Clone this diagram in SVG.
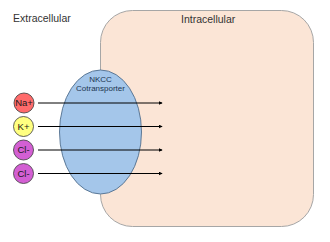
<svg xmlns="http://www.w3.org/2000/svg" width="330" height="242" viewBox="0 0 330 242">
  <style>
    text { font-family: "Liberation Sans", Arial, sans-serif; }
    .label { font-size: 10.5px; fill: #333333; }
    .ion { stroke: #3a3a3a; stroke-width: 0.8; }
    .iontext { font-size: 9.5px; fill: #1a1a1a; text-anchor: middle; }
    .conn { stroke: #000; stroke-width: 1; fill: none; marker-end: url(#arr); }
  </style>
  <defs>
    <marker id="arr" viewBox="0 0 6 6" refX="5" refY="3" markerWidth="4" markerHeight="4" orient="auto" markerUnits="userSpaceOnUse">
      <path d="M0,0 L6,3 L0,6 z" fill="#000"/>
    </marker>
  </defs>
  <rect width="330" height="242" fill="#ffffff"/>
  <text class="label" x="13" y="22">Extracellular</text>
  <g id="intracellular">
    <rect x="100.5" y="10.5" width="213" height="216" rx="32" ry="32" fill="#fbe5d6" stroke="#a6a6a6" stroke-width="1"/>
    <text class="label" x="181" y="23">Intracellular</text>
  </g>
  <g id="nkcc">
    <ellipse cx="100.5" cy="132" rx="41" ry="62" fill="#a4c6ea" stroke="#4f6d8c" stroke-width="0.9"/>
    <text x="100.5" y="82" font-size="8" fill="#203550" text-anchor="middle">NKCC</text>
    <text x="100.5" y="91" font-size="8" fill="#203550" text-anchor="middle">Cotransporter</text>
  </g>
  <g id="na">
    <circle class="ion" cx="24" cy="103" r="10" fill="#ff6b6b"/>
    <text class="iontext" x="24" y="106.3">Na+</text>
  </g>
  <g id="k">
    <circle class="ion" cx="23.5" cy="126.5" r="10" fill="#ffff80"/>
    <text class="iontext" x="23.5" y="129.8">K+</text>
  </g>
  <g id="cl1">
    <circle class="ion" cx="23.5" cy="150" r="10" fill="#d35fd3"/>
    <text class="iontext" x="23.5" y="153.3">Cl-</text>
  </g>
  <g id="cl2">
    <circle class="ion" cx="23.5" cy="173.5" r="10" fill="#d35fd3"/>
    <text class="iontext" x="23.5" y="176.8">Cl-</text>
  </g>
  <g id="connectors">
    <line class="conn" x1="38" y1="103" x2="162" y2="103"/>
    <line class="conn" x1="38" y1="126.5" x2="162" y2="126.5"/>
    <line class="conn" x1="38" y1="150" x2="162" y2="150"/>
    <line class="conn" x1="38" y1="173.5" x2="162" y2="173.5"/>
  </g>
</svg>
